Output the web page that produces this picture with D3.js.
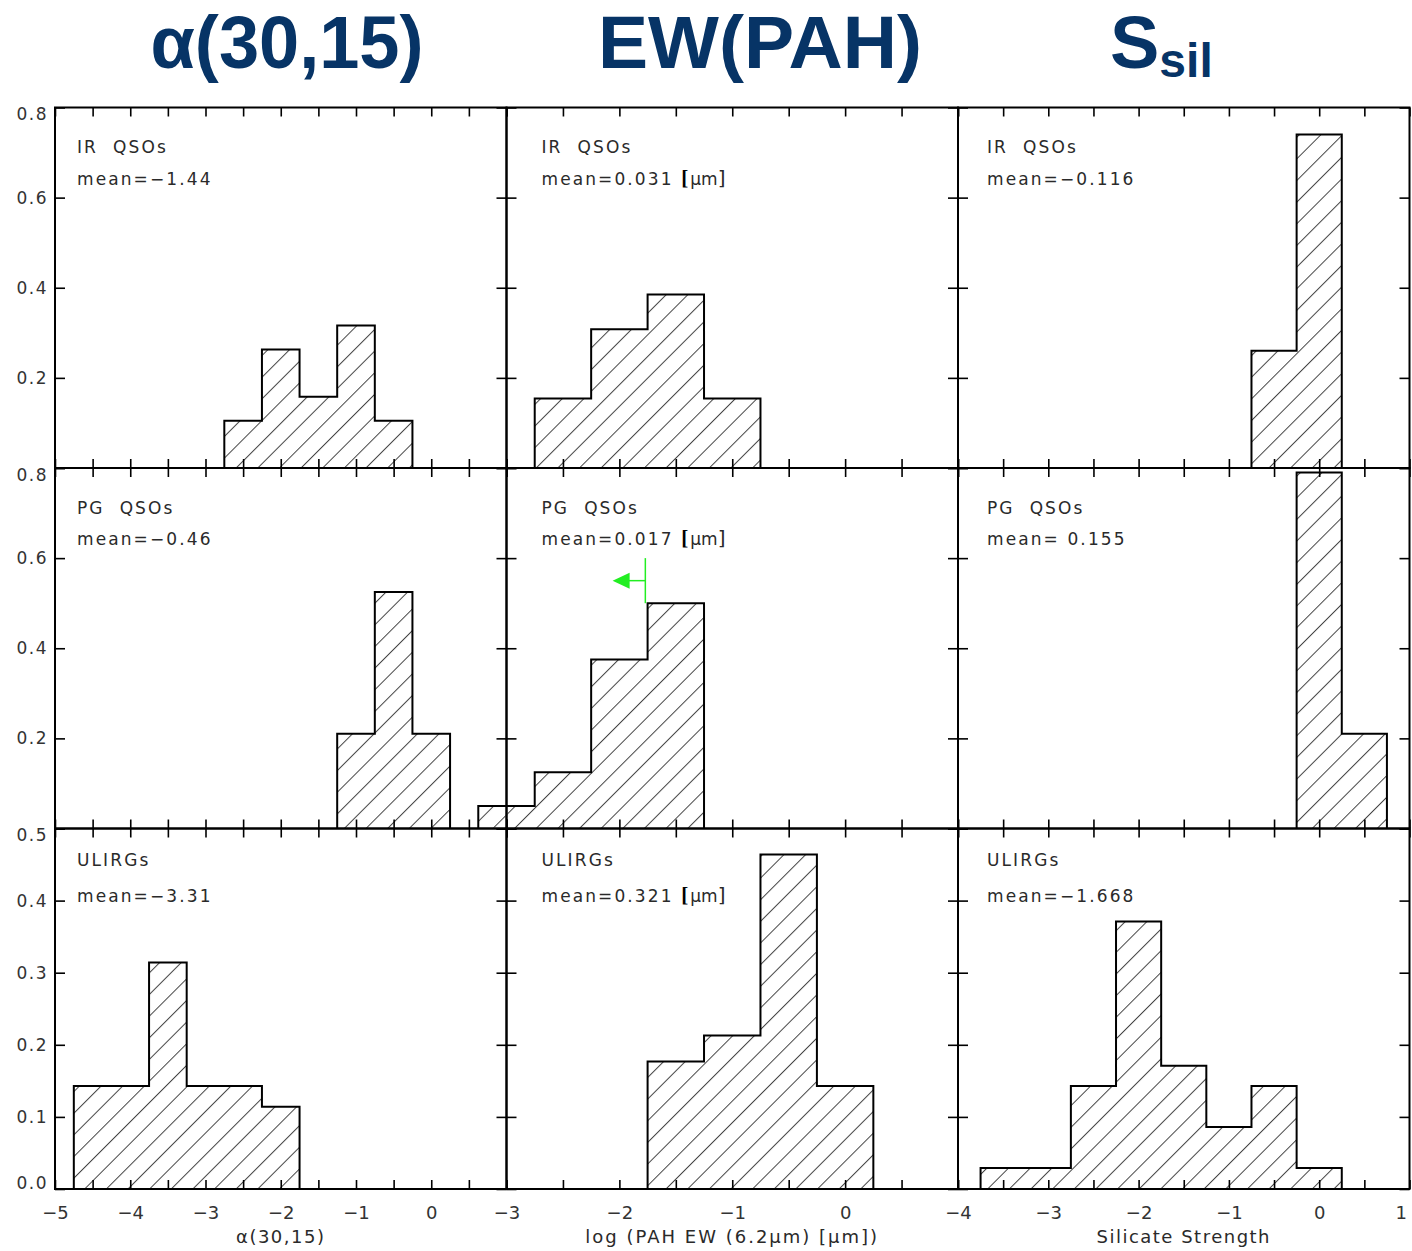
<!DOCTYPE html>
<html>
<head>
<meta charset="utf-8">
<script src="https://cdn.jsdelivr.net/npm/d3@7"></script>
<style>
  body { margin: 0; background: #fff; }
  svg { display: block; }
  .tick text { font-family: "DejaVu Sans", sans-serif; fill: #333; }
  .lbl { font-family: "DejaVu Sans", sans-serif; fill: #2a2a2a; font-size: 17px; letter-spacing: 2.1px; }
  .title { font-family: "Liberation Sans", Arial, sans-serif; font-weight: bold; fill: #073466; }
</style>
</head>
<body>
<svg id="fig" width="1412" height="1251"></svg>
<script>
'use strict';

// columns / rows of the grid
var titles     = ["α(30,15)", "EW(PAH)", "S"],
    xTitles    = ["α(30,15)", "log (PAH EW (6.2μm) [μm])", "Silicate Strength"],
    xDomains   = [[-5, 1], [-3, 1], [-4, 1]],
    xTickLabels = [[-5, -4, -3, -2, -1, 0], [-3, -2, -1, 0], [-4, -3, -2, -1, 0, 1]],
    samples    = ["IR QSOs", "PG QSOs", "ULIRGs"],
    yDomains   = [[0, 0.8], [0, 0.8], [0, 0.5]],
    yTickLabels = [[0.2, 0.4, 0.6, 0.8], [0.2, 0.4, 0.6, 0.8], [0, 0.1, 0.2, 0.3, 0.4, 0.5]],
    yTickValues = [[0, 0.2, 0.4, 0.6, 0.8], [0, 0.2, 0.4, 0.6, 0.8], [0, 0.1, 0.2, 0.3, 0.4, 0.5]];

var stats = [["mean=−1.44", "mean=0.031", "mean=−0.116"],
             ["mean=−0.46", "mean=0.017", "mean= 0.155"],
             ["mean=−3.31", "mean=0.321", "mean=−1.668"]];

// histograms: left edge of each 0.5-wide bin and the fraction in it
var binWidth = 0.5;
var alphaIrEdges = [-2.75, -2.25, -1.75, -1.25, -0.75],
    alphaIrFrac  = [0.105, 0.263, 0.158, 0.316, 0.105];
var ewIrEdges = [-2.75, -2.25, -1.75, -1.25],
    ewIrFrac  = [0.154, 0.308, 0.385, 0.154];
var silIrEdges = [-0.75, -0.25],
    silIrFrac  = [0.26, 0.74];
var alphaPgEdges = [-1.25, -0.75, -0.25],
    alphaPgFrac  = [0.21, 0.525, 0.21];
var ewPgEdges = [-3.25, -2.75, -2.25, -1.75],
    ewPgFrac  = [0.05, 0.125, 0.375, 0.5];
var silPgEdges = [-0.25, 0.25],
    silPgFrac  = [0.79, 0.21];
var alphaUlEdges = [-4.75, -4.25, -3.75, -3.25, -2.75, -2.25],
    alphaUlFrac  = [0.143, 0.143, 0.314, 0.143, 0.143, 0.114];
var ewUlEdges = [-1.75, -1.25, -0.75, -0.25],
    ewUlFrac  = [0.177, 0.213, 0.464, 0.143];
var silUlEdges = [-3.75, -3.25, -2.75, -2.25, -1.75, -1.25, -0.75, -0.25],
    silUlFrac  = [0.029, 0.029, 0.143, 0.371, 0.171, 0.086, 0.143, 0.029];

// upper limit marker in the PG QSO EW panel (log 0.017)
var pgLimitX = -1.77, pgLimitRange = [0.5, 0.6], pgArrowY = 0.55, pgArrowTip = -2.06;

var hists = [[[alphaIrEdges, alphaIrFrac], [ewIrEdges, ewIrFrac], [silIrEdges, silIrFrac]],
             [[alphaPgEdges, alphaPgFrac], [ewPgEdges, ewPgFrac], [silPgEdges, silPgFrac]],
             [[alphaUlEdges, alphaUlFrac], [ewUlEdges, ewUlFrac], [silUlEdges, silUlFrac]]];

// layout
var colX = [55, 506.5, 958], colW = 451.5,
    rowY = [107.5, 468, 828.5], rowH = 360.5,
    lblDx = [22, 35, 29],
    lblDy = [[45, 77], [46, 77], [37, 73]];

var svg = d3.select("#fig");

svg.append("defs").append("pattern")
    .attr("id", "hatch")
    .attr("patternUnits", "userSpaceOnUse")
    .attr("width", 15.3)
    .attr("height", 15.3)
    .attr("patternTransform", "rotate(45)")
  .append("line")
    .attr("x1", 0.5).attr("y1", 0)
    .attr("x2", 0.5).attr("y2", 15.3)
    .attr("stroke", "#444")
    .attr("stroke-width", 1);

// column titles
var titleX = [287, 760, 1110];
titles.forEach(function(t, i) {
  var txt = svg.append("text")
      .attr("class", "title")
      .attr("x", titleX[i])
      .attr("y", 68)
      .attr("text-anchor", i == 2 ? "start" : "middle")
      .style("font-size", "74px");
  if (i == 2) {
    txt.text(t)
      .append("tspan").attr("dy", 9).style("font-size", "48px").text("sil");
  } else {
    txt.attr("textLength", i == 0 ? 273 : 324)
       .attr("lengthAdjust", "spacingAndGlyphs")
       .text(t);
  }
});

for (var r = 0; r < 3; r++) {
  for (var c = 0; c < 3; c++) {
    drawPanel(r, c);
  }
}

function drawPanel(r, c) {
  var x = d3.scaleLinear().domain(xDomains[c]).range([0, colW]),
      y = d3.scaleLinear().domain(yDomains[r]).range([rowH, 0]);

  var g = svg.append("g")
      .attr("transform", "translate(" + colX[c] + "," + rowY[r] + ")");

  // step outline of the histogram
  var edges = hists[r][c][0], frac = hists[r][c][1], pts = [];
  edges.forEach(function(e, i) {
    if (i == 0) pts.push([e, 0]);
    pts.push([e, frac[i]]);
    pts.push([e + binWidth, frac[i]]);
  });
  pts.push([edges[edges.length - 1] + binWidth, 0]);

  var step = d3.line()
      .x(function(d) { return x(d[0]); })
      .y(function(d) { return y(d[1]); });

  g.append("path")
      .attr("d", step(pts) + "Z")
      .attr("fill", "url(#hatch)")
      .attr("stroke", "none");
  g.append("path")
      .attr("d", step(pts))
      .attr("fill", "none")
      .attr("stroke", "#000")
      .attr("stroke-width", 2);

  // ticks on all four sides, pointing inward
  var majors = d3.range(xDomains[c][0], xDomains[c][1] + 0.01, 0.5);
  var bottom = g.append("g")
      .attr("transform", "translate(0," + rowH + ")")
      .call(d3.axisBottom(x).tickValues(majors).tickSize(-9).tickPadding(17)
              .tickFormat(function(d) {
                return (r == 2 && xTickLabels[c].indexOf(d) >= 0) ? d3.format("")(d).replace("-", "−") : "";
              }));
  // last label of the figure sits on the page edge: pull it inside
  bottom.selectAll(".tick text")
      .filter(function(d) { return c == 2 && d == xDomains[c][1]; })
      .attr("text-anchor", "end").attr("dx", -3);

  g.append("g")
      .call(d3.axisTop(x).tickValues(majors).tickSize(-9).tickFormat(""));
  var left = g.append("g")
      .call(d3.axisLeft(y).tickValues(yTickValues[r]).tickSize(-10).tickPadding(7)
              .tickFormat(function(d) {
                return (c == 0 && yTickLabels[r].indexOf(d) >= 0) ? d3.format(".1f")(d) : "";
              }));
  // labels at the frame edges are nudged inward, as in the original
  left.selectAll(".tick text")
      .attr("dy", function(d) {
        if (d == yDomains[r][1]) return "0.72em";
        if (d == yDomains[r][0]) return "-0.05em";
        return "0.32em";
      });
  g.append("g")
      .attr("transform", "translate(" + colW + ",0)")
      .call(d3.axisRight(y).tickValues(yTickValues[r]).tickSize(-10).tickFormat(""));

  g.selectAll(".domain").remove();
  g.selectAll(".tick line").attr("stroke", "#000").attr("stroke-width", 1.6);
  bottom.selectAll(".tick text").style("font-size", "18px");
  left.selectAll(".tick text").style("font-size", "17px").style("letter-spacing", "1.5px");

  // frame
  g.append("rect")
      .attr("width", colW)
      .attr("height", rowH)
      .attr("fill", "none")
      .attr("stroke", "#000")
      .attr("stroke-width", 2);

  // sample label and mean
  g.append("text")
      .attr("class", "lbl")
      .attr("x", lblDx[c])
      .attr("y", lblDy[r][0])
      .attr("xml:space", "preserve")
      .text(samples[r].replace(" ", "  "));
  var st = g.append("text")
      .attr("class", "lbl")
      .attr("x", lblDx[c])
      .attr("y", lblDy[r][1])
      .attr("xml:space", "preserve")
      .text(stats[r][c]);
  if (c == 1) {
    st.append("tspan").text(" ");
    st.append("tspan").style("font-weight", "bold").style("font-family", "Liberation Serif, serif")
      .style("font-size", "21px").style("fill", "#000").text("[");
    st.append("tspan").style("letter-spacing", "0px").text("μm");
    st.append("tspan").style("font-size", "20px").text("]");
  }

  if (r == 1 && c == 1) {
    g.append("line")
        .attr("x1", x(pgLimitX)).attr("x2", x(pgLimitX))
        .attr("y1", y(pgLimitRange[0])).attr("y2", y(pgLimitRange[1]))
        .attr("stroke", "#22ee22").attr("stroke-width", 1.5);
    g.append("line")
        .attr("x1", x(pgLimitX)).attr("x2", x(pgArrowTip) + 14)
        .attr("y1", y(pgArrowY)).attr("y2", y(pgArrowY))
        .attr("stroke", "#22ee22").attr("stroke-width", 1.5);
    g.append("path")
        .attr("d", "M" + x(pgArrowTip) + "," + y(pgArrowY) +
                   "L" + (x(pgArrowTip) + 17) + "," + (y(pgArrowY) - 8) +
                   "L" + (x(pgArrowTip) + 17) + "," + (y(pgArrowY) + 8) + "Z")
        .attr("fill", "#22ee22");
  }

  if (r == 2) {
    g.append("text")
        .attr("class", "lbl")
        .attr("x", colW / 2)
        .attr("y", rowH + 54)
        .attr("text-anchor", "middle")
        .style("font-size", "18px")
        .style("letter-spacing", c == 1 ? "2px" : "1.5px")
        .text(xTitles[c]);
  }
}
</script>
</body>
</html>
